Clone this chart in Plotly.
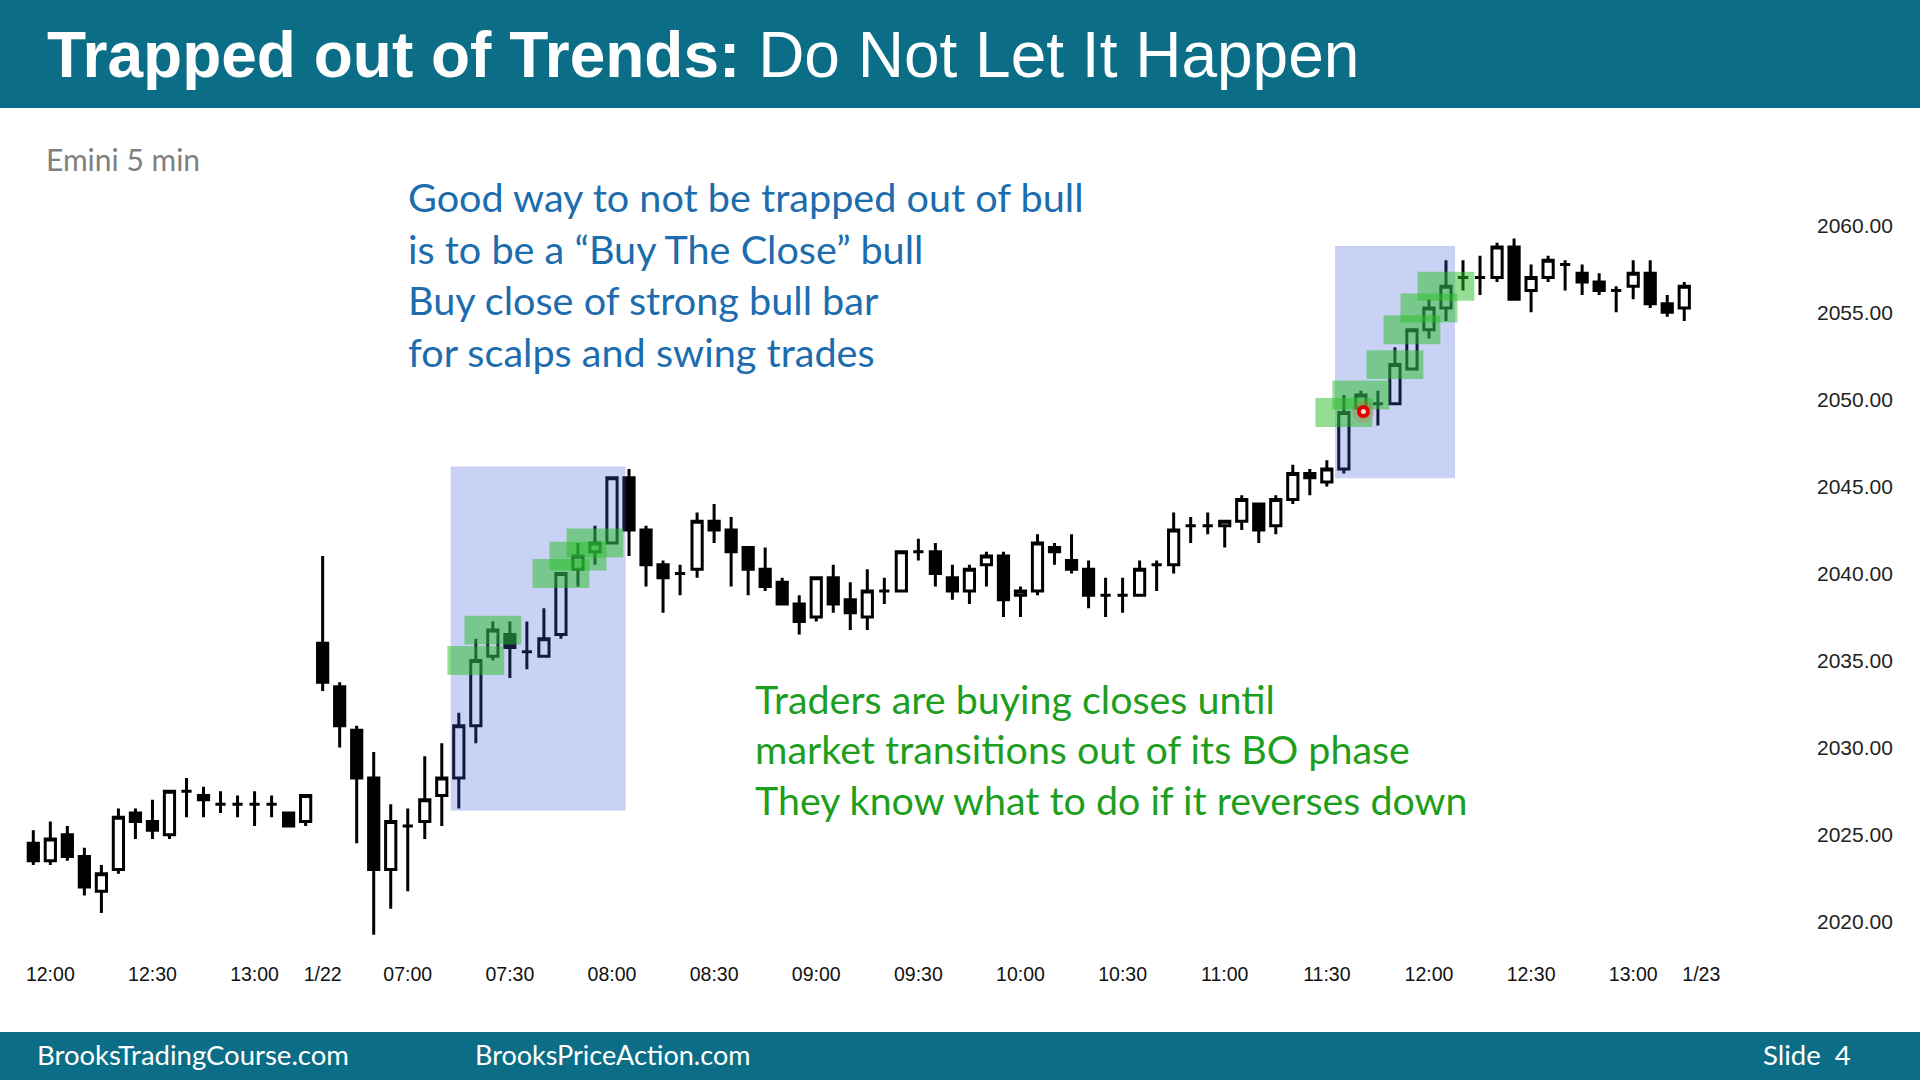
import plotly.graph_objects as go

# ---------------- data ----------------
# bar index 0 = 11:55 (1/21), index 17 = 06:35 (1/22), 5-min bars
OPEN = [2024.50, 2023.50, 2025.00, 2023.75, 2021.75, 2023.00, 2026.25, 2025.75, 2025.00, 2027.50,
        2027.25, 2026.75, 2026.75, 2026.75, 2026.75, 2026.25, 2025.75, 2036.00, 2033.50, 2031.00,
        2028.25, 2023.00, 2025.50, 2025.75, 2027.25, 2028.25, 2031.25, 2035.25, 2036.50, 2035.50,
        2035.25, 2036.50, 2040.25, 2041.25, 2041.75, 2045.50, 2042.50, 2040.50, 2040.00, 2040.25,
        2043.00, 2042.50, 2041.50, 2040.25, 2039.50, 2038.25, 2037.50, 2039.75, 2038.50, 2037.50,
        2039.00, 2039.00, 2041.25, 2041.25, 2039.75, 2039.00, 2040.50, 2041.00, 2038.75, 2039.00,
        2041.50, 2040.75, 2040.25, 2038.75, 2038.75, 2038.75, 2040.50, 2040.50, 2042.75, 2042.75,
        2042.75, 2043.00, 2044.00, 2042.75, 2044.25, 2045.75, 2045.25, 2046.00, 2049.50, 2049.75,
        2049.75, 2051.75, 2054.00, 2055.25, 2057.00, 2057.00, 2057.00, 2058.75, 2056.25, 2057.00,
        2057.75, 2057.25, 2056.75, 2056.25, 2056.50, 2057.25, 2055.50, 2055.25]
HIGH = [2025.25, 2025.75, 2025.50, 2024.25, 2023.25, 2026.50, 2026.50, 2027.00, 2027.50, 2028.25,
        2027.75, 2027.50, 2027.25, 2027.50, 2027.25, 2026.25, 2027.25, 2041.00, 2033.75, 2031.25,
        2029.75, 2026.75, 2026.50, 2029.50, 2030.25, 2032.00, 2036.25, 2037.25, 2037.25, 2037.25,
        2038.00, 2040.00, 2041.75, 2042.75, 2045.50, 2046.00, 2042.75, 2040.75, 2040.50, 2043.50,
        2044.00, 2043.25, 2041.50, 2041.50, 2039.75, 2038.75, 2039.75, 2040.50, 2039.50, 2040.25,
        2039.75, 2041.25, 2042.00, 2041.75, 2040.50, 2040.50, 2041.25, 2041.25, 2039.25, 2042.25,
        2041.75, 2042.25, 2040.75, 2039.75, 2039.75, 2040.75, 2040.75, 2043.50, 2043.25, 2043.50,
        2043.00, 2044.50, 2044.00, 2044.50, 2046.25, 2046.00, 2046.50, 2050.25, 2050.50, 2050.50,
        2053.00, 2054.00, 2055.75, 2058.00, 2058.00, 2058.25, 2059.00, 2059.25, 2057.75, 2058.25,
        2058.00, 2057.75, 2057.25, 2056.50, 2058.00, 2058.00, 2056.00, 2056.75]
LOW = [2023.25, 2023.25, 2023.50, 2021.50, 2020.50, 2022.75, 2024.75, 2024.75, 2024.75, 2026.00,
       2026.00, 2026.25, 2026.00, 2025.50, 2026.00, 2025.50, 2025.50, 2033.25, 2030.00, 2024.50,
       2019.25, 2020.75, 2021.75, 2024.75, 2025.50, 2026.50, 2030.25, 2035.00, 2034.00, 2034.50,
       2035.25, 2036.25, 2039.25, 2040.50, 2041.75, 2041.00, 2039.25, 2037.75, 2038.75, 2039.75,
       2041.75, 2039.25, 2038.75, 2039.00, 2038.25, 2036.50, 2037.25, 2037.75, 2036.75, 2036.75,
       2038.25, 2039.00, 2040.75, 2039.25, 2038.50, 2038.25, 2039.25, 2037.50, 2037.50, 2038.75,
       2040.50, 2040.00, 2038.00, 2037.50, 2037.75, 2038.75, 2039.00, 2040.00, 2041.75, 2042.25,
       2041.50, 2042.50, 2041.75, 2042.25, 2044.00, 2044.50, 2045.00, 2045.75, 2049.25, 2048.50,
       2049.75, 2051.75, 2053.50, 2054.50, 2056.25, 2056.00, 2056.75, 2055.75, 2055.00, 2056.75,
       2056.25, 2056.00, 2056.00, 2055.00, 2055.75, 2055.25, 2054.75, 2054.50]
CLOSE = [2023.50, 2024.75, 2023.75, 2022.00, 2022.75, 2026.00, 2025.75, 2025.25, 2027.50, 2027.50,
         2027.00, 2026.75, 2026.75, 2026.75, 2026.75, 2025.50, 2027.25, 2033.75, 2031.25, 2028.25,
         2023.00, 2025.75, 2025.50, 2027.00, 2028.25, 2031.25, 2035.00, 2036.75, 2035.75, 2035.50,
         2036.25, 2040.00, 2041.00, 2041.75, 2045.50, 2042.50, 2040.50, 2039.75, 2040.00, 2043.00,
         2042.50, 2041.25, 2040.25, 2039.25, 2038.25, 2037.25, 2039.75, 2038.25, 2037.75, 2039.00,
         2039.00, 2041.25, 2041.25, 2040.00, 2039.00, 2040.25, 2041.00, 2038.50, 2039.00, 2041.75,
         2041.25, 2040.25, 2038.75, 2038.75, 2038.75, 2040.25, 2040.50, 2042.50, 2042.75, 2042.75,
         2043.00, 2044.25, 2042.50, 2044.25, 2045.75, 2045.50, 2046.00, 2049.25, 2050.25, 2049.75,
         2052.00, 2054.00, 2055.25, 2056.50, 2057.00, 2057.00, 2058.75, 2055.75, 2057.00, 2058.00,
         2057.75, 2056.75, 2056.25, 2056.25, 2057.25, 2055.50, 2055.00, 2056.50]

TICK_POS = [1, 7, 13, 17, 22, 28, 34, 40, 46, 52, 58, 64, 70, 76, 82, 88, 94, 98]
TICK_TEXT = ["12:00", "12:30", "13:00", "1/22", "07:00", "07:30", "08:00", "08:30", "09:00",
             "09:30", "10:00", "10:30", "11:00", "11:30", "12:00", "12:30", "13:00", "1/23"]
Y_TICKS = [2020, 2025, 2030, 2035, 2040, 2045, 2050, 2055, 2060]

# bars whose closes are highlighted ("buy the close")
GREEN_BARS = [26, 27, 31, 32, 33, 77, 78, 80, 81, 82, 83]
# breakout-phase zones: (x0, x1, y0, y1) in bar index / price
ZONES = [(24.52, 34.8, 2026.38, 2046.15), (76.48, 83.53, 2045.47, 2058.81)]
DOT_X = [78.15]
DOT_Y = [2049.3]

TITLE_BOLD = "Trapped out of Trends:"
TITLE_REG = " Do Not Let It Happen"
BLUE_LINES = ["Good way to not be trapped out of bull",
              "is to be a \u201cBuy The Close\u201d bull",
              "Buy close of strong bull bar",
              "for scalps and swing trades"]
GREEN_LINES = ["Traders are buying closes until",
               "market transitions out of its BO phase",
               "They know what to do if it reverses down"]

# ---------------- figure ----------------
W, H = 1920, 1080
TEAL = "#0b6e86"
x_idx = list(range(len(OPEN)))

fig = go.Figure()
fig.add_trace(go.Candlestick(
    x=x_idx, open=OPEN, high=HIGH, low=LOW, close=CLOSE,
    increasing=dict(fillcolor="white", line=dict(color="black", width=3)),
    decreasing=dict(fillcolor="black", line=dict(color="black", width=3)),
    whiskerwidth=0, hoverinfo="skip", showlegend=False))

shapes = []
# title & footer bars
shapes.append(dict(type="rect", xref="paper", yref="paper", x0=0, x1=1, y0=1 - 108 / H, y1=1,
                   fillcolor=TEAL, line=dict(width=0), layer="above"))
shapes.append(dict(type="rect", xref="paper", yref="paper", x0=0, x1=1, y0=0, y1=48 / H,
                   fillcolor=TEAL, line=dict(width=0), layer="above"))
for (x0, x1, y0, y1) in ZONES:
    shapes.append(dict(type="rect", xref="x", yref="y", x0=x0, x1=x1, y0=y0, y1=y1,
                       fillcolor="rgba(60,95,215,0.28)", line=dict(width=0), layer="above"))
for i in GREEN_BARS:
    c = CLOSE[i]
    shapes.append(dict(type="rect", xref="x", yref="y", x0=i - 1.67, x1=i + 1.67,
                       y0=c - 0.83, y1=c + 0.83,
                       fillcolor="rgba(40,190,40,0.5)", line=dict(width=0), layer="above"))
# red marker dot (pixel-sized circles anchored at data point)
for r, col in [(11, "rgba(255,70,70,0.22)"), (6.5, "#e00000"), (2.5, "#ffe0e0")]:
    for dx, dy in zip(DOT_X, DOT_Y):
        shapes.append(dict(type="circle", xref="x", yref="y", xsizemode="pixel", ysizemode="pixel",
                           xanchor=dx, yanchor=dy, x0=-r, x1=r, y0=-r, y1=r,
                           fillcolor=col, line=dict(width=0), layer="above"))

ann = []
ann.append(dict(xref="paper", yref="paper", x=45 / W, y=1 - 55 / H, xanchor="left", yanchor="middle",
                showarrow=False, text="<b>" + TITLE_BOLD + "</b>" + TITLE_REG,
                font=dict(family="Liberation Sans, Arial", size=64, color="white")))
ann.append(dict(xref="paper", yref="paper", x=44 / W, y=1 - 159 / H, xanchor="left", yanchor="middle",
                showarrow=False, text="Emini 5 min",
                font=dict(family="Lato", size=30, color="#7f7f7f")))
for k, t in enumerate(BLUE_LINES):
    ann.append(dict(xref="paper", yref="paper", x=406 / W, y=1 - (197 + 51.4 * k) / H,
                    xanchor="left", yanchor="middle", showarrow=False, text=t,
                    font=dict(family="Lato", size=39.6, color="#1c6cae")))
for k, t in enumerate(GREEN_LINES):
    ann.append(dict(xref="paper", yref="paper", x=753 / W, y=1 - (698 + 50.8 * k) / H,
                    xanchor="left", yanchor="middle", showarrow=False, text=t,
                    font=dict(family="Lato", size=39.4, color="#1e9e1e")))
foot_font = dict(family="Lato", size=27.5, color="white")
ann.append(dict(xref="paper", yref="paper", x=35 / W, y=1 - 1054 / H, xanchor="left", yanchor="middle",
                showarrow=False, text="BrooksTradingCourse.com", font=foot_font))
ann.append(dict(xref="paper", yref="paper", x=473 / W, y=1 - 1054 / H, xanchor="left", yanchor="middle",
                showarrow=False, text="BrooksPriceAction.com", font=dict(family="Lato", size=27, color="white")))
ann.append(dict(xref="paper", yref="paper", x=1853 / W, y=1 - 1054 / H, xanchor="right", yanchor="middle",
                showarrow=False, text="Slide&nbsp;&nbsp;4", font=foot_font))

fig.update_layout(
    width=W, height=H, autosize=False,
    margin=dict(l=0, r=0, t=0, b=0, pad=0),
    paper_bgcolor="white", plot_bgcolor="white",
    shapes=shapes, annotations=ann, showlegend=False,
    boxgap=0.4, boxgroupgap=0.0,
    xaxis=dict(domain=[0, 1800 / W], range=[-1.957, 103.80], rangeslider=dict(visible=False),
               tickmode="array", tickvals=TICK_POS, ticktext=TICK_TEXT,
               showgrid=False, zeroline=False, showline=False, ticks="", automargin=False,
               tickfont=dict(family="Liberation Sans, Arial", size=19.5, color="#111")),
    yaxis=dict(domain=[120 / H, 960 / H], range=[2017.80, 2066.05], side="right",
               tickmode="array", tickvals=Y_TICKS, ticktext=[f"{v:.2f}" for v in Y_TICKS],
               showgrid=False, zeroline=False, showline=False, ticks="", automargin=False,
               ticklabelstandoff=16,
               tickfont=dict(family="Liberation Sans, Arial", size=21, color="#222")),
)

fig.write_html("out.html", config={"displayModeBar": False},
               post_script="document.body.style.margin='0px';")
